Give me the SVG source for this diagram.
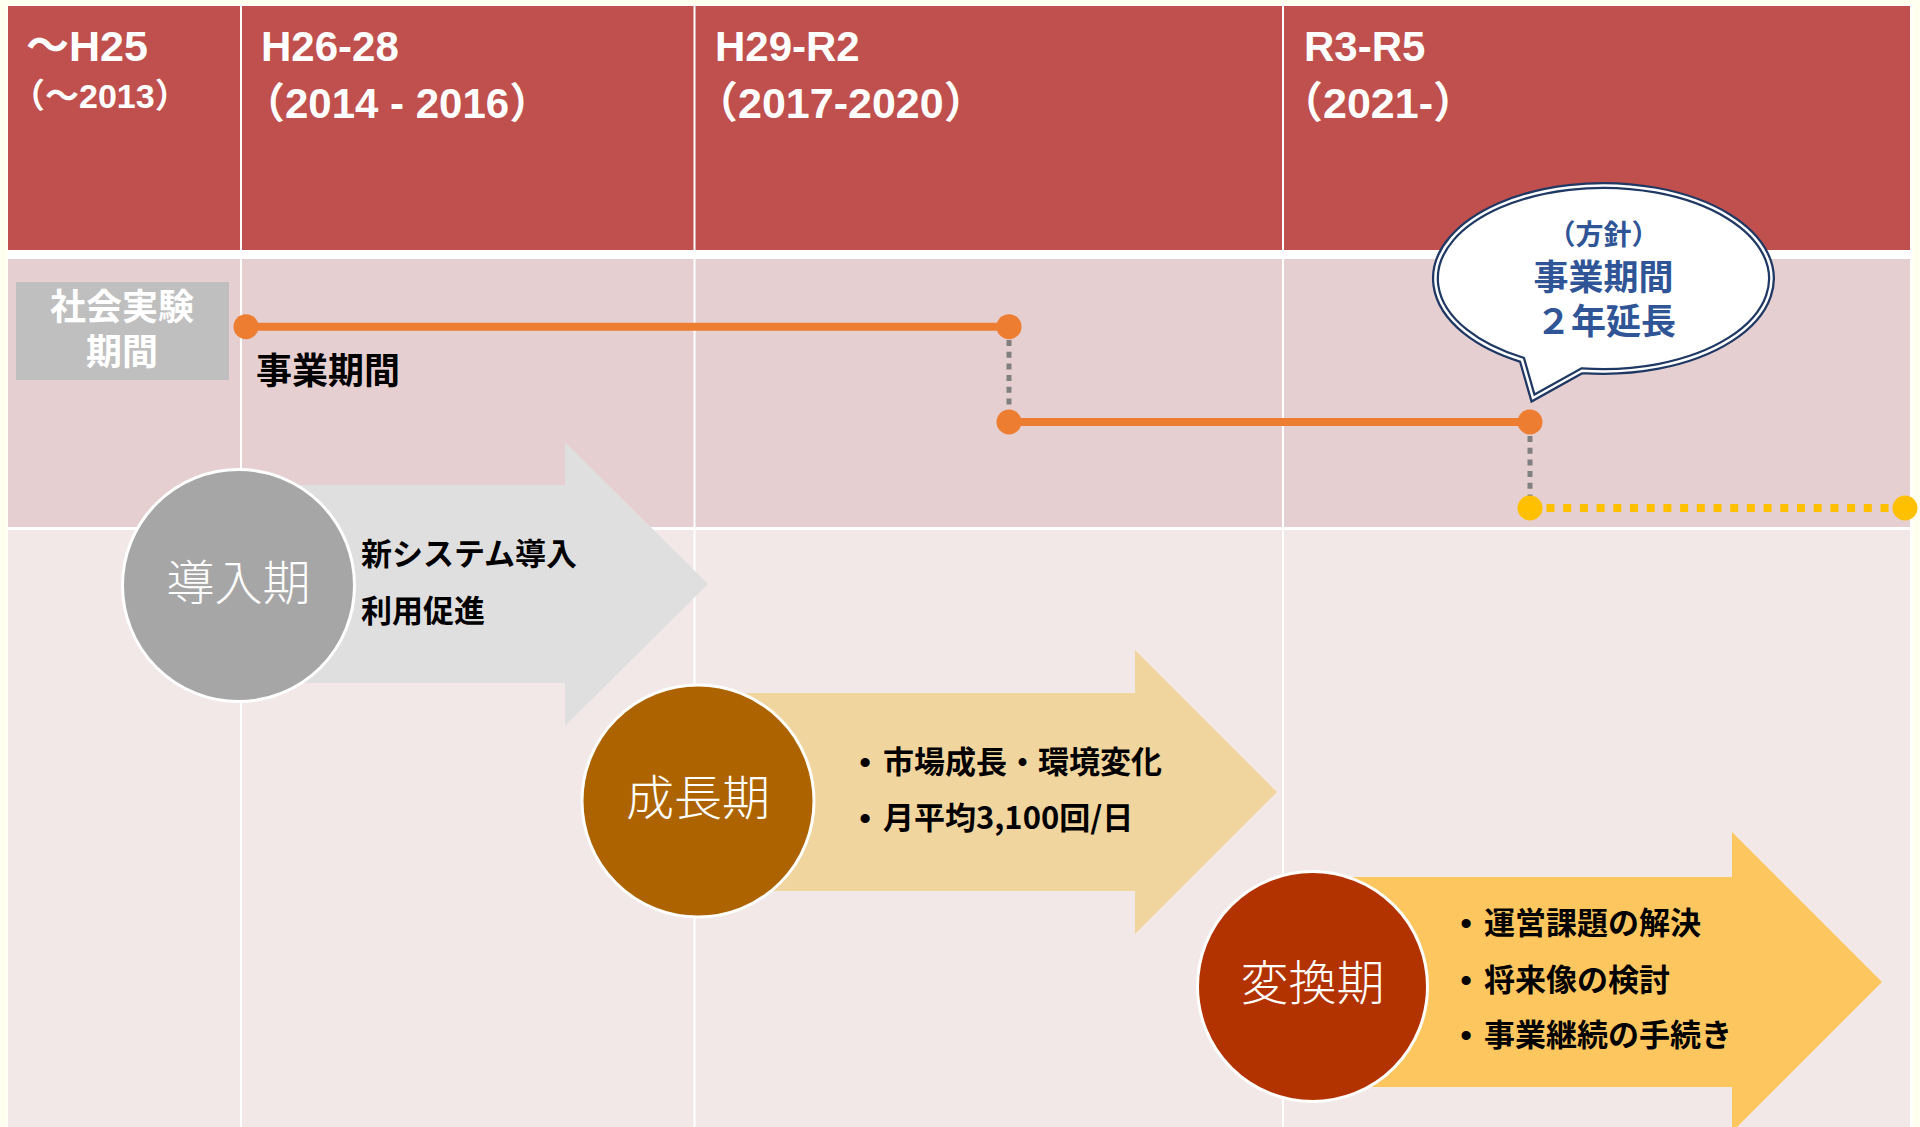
<svg xmlns="http://www.w3.org/2000/svg" width="1920" height="1127" viewBox="0 0 1920 1127">
<style>
.hdr{font-family:"Liberation Sans","Noto Sans CJK JP",sans-serif;font-weight:700;fill:#ffffff}
.jpb{font-family:"Noto Sans CJK JP",sans-serif;font-weight:700}
.lbl{font-family:"Noto Sans CJK JP",sans-serif;font-weight:700;font-size:31px;fill:#000000}
.cir{font-family:"Noto Sans CJK JP",sans-serif;font-weight:300;font-size:48px;fill:#ffffff;text-anchor:middle}
.bul{font-family:"Liberation Sans",sans-serif;font-weight:700;font-size:32px;fill:#000000;text-anchor:middle}
.bub{font-family:"Noto Sans CJK JP",sans-serif;font-weight:700;fill:#2f5597;text-anchor:middle}
.vline{stroke:#ffffff;stroke-width:2}
.phase{stroke:#ffffff;stroke-width:3}
.dot{fill:#ed7d31}
.ydot{fill:#ffc000}
</style>
<rect x="0" y="0" width="1920" height="1127" fill="#fffff0"/>
<g id="table">
<rect x="7" y="5" width="1906" height="1122" fill="#ffffff"/>
<rect x="8" y="6" width="1902" height="244" fill="#c0504d"/>
<rect x="8" y="259" width="1902" height="268" fill="#e6cfd0"/>
<rect x="8" y="530" width="1902" height="597" fill="#f2e8e8"/>
<line class="vline" x1="241" y1="5" x2="241" y2="1127"/>
<line class="vline" x1="694.5" y1="5" x2="694.5" y2="1127"/>
<line class="vline" x1="1283" y1="5" x2="1283" y2="1127"/>
</g>
<g id="header-col1">
<text class="hdr" x="26" y="61" font-size="43">～H25</text>
<text class="hdr" x="11" y="108" font-size="34">（～2013）</text>
</g>
<g id="header-col2">
<text class="hdr" x="261" y="61" font-size="42">H26-28</text>
<text class="hdr" x="243" y="118" font-size="42">（2014 - 2016）</text>
</g>
<g id="header-col3">
<text class="hdr" x="715" y="61" font-size="42">H29-R2</text>
<text class="hdr" x="695" y="118" font-size="43">（2017-2020）</text>
</g>
<g id="header-col4">
<text class="hdr" x="1304" y="61" font-size="42">R3-R5</text>
<text class="hdr" x="1280" y="118" font-size="43">（2021-）</text>
</g>
<g id="social-experiment">
<rect x="16" y="282" width="213" height="98" fill="#bfbfbf"/>
<text class="jpb" font-size="36" fill="#ffffff" text-anchor="middle"><tspan x="122" y="320">社会実験</tspan><tspan x="122" y="365">期間</tspan></text>
</g>
<g id="connectors">
<line x1="246" y1="326.7" x2="1009" y2="326.7" stroke="#ed7d31" stroke-width="8"/>
<line x1="1009" y1="422" x2="1530" y2="422" stroke="#ed7d31" stroke-width="8"/>
<line x1="1009" y1="340" x2="1009" y2="410" stroke="#808080" stroke-width="5" stroke-dasharray="6 5.7"/>
<line x1="1530" y1="436" x2="1530" y2="496" stroke="#808080" stroke-width="5" stroke-dasharray="6 5.7"/>
<line x1="1546.5" y1="508" x2="1893" y2="508" stroke="#ffc000" stroke-width="8" stroke-dasharray="8 8.7"/>
<circle class="dot" cx="246" cy="326.7" r="12.5"/>
<circle class="dot" cx="1009" cy="326.7" r="12.5"/>
<circle class="dot" cx="1009" cy="422" r="12.5"/>
<circle class="dot" cx="1530" cy="422" r="12.5"/>
<circle class="ydot" cx="1530" cy="508" r="12.5"/>
<circle class="ydot" cx="1905" cy="508" r="12.5"/>
</g>
<g id="period-label">
<text class="jpb" x="256" y="384" font-size="36" fill="#000000">事業期間</text>
</g>
<g id="phase-intro">
<polygon points="238,485 565,485 565,442 708,584 565,726 565,683 238,683" fill="#e0dfe0"/>
<circle class="phase" cx="238.5" cy="585.5" r="116" fill="#a6a6a6"/>
<text class="cir" x="238.5" y="600">導入期</text>
<text class="lbl" x="361" y="565">新システム導入</text>
<text class="lbl" x="361" y="622">利用促進</text>
</g>
<g id="phase-growth">
<polygon points="698,693 1135,693 1135,650 1277,792 1135,934 1135,891 698,891" fill="#f0d59f"/>
<circle class="phase" cx="698" cy="801" r="116" fill="#ad6400"/>
<text class="cir" x="698" y="815">成長期</text>
<text class="bul" x="865" y="773">•</text>
<text class="lbl" x="883" y="773">市場成長・環境変化</text>
<text class="bul" x="865" y="829">•</text>
<text class="lbl" x="883" y="829">月平均3,100回/日</text>
</g>
<g id="phase-transition">
<polygon points="1312,877 1732,877 1732,832 1882,982 1732,1132 1732,1087 1312,1087" fill="#fec65e"/>
<circle class="phase" cx="1312.5" cy="986.5" r="115" fill="#b33300"/>
<text class="cir" x="1312.5" y="1000">変換期</text>
<text class="bul" x="1466" y="934">•</text>
<text class="lbl" x="1484" y="934">運営課題の解決</text>
<text class="bul" x="1466" y="991">•</text>
<text class="lbl" x="1484" y="991">将来像の検討</text>
<text class="bul" x="1466" y="1046">•</text>
<text class="lbl" x="1484" y="1046">事業継続の手続き</text>
</g>
<g id="policy-bubble">
<path d="M1582 370.7 A168 93 0 1 0 1522 359.8 L1533 398 Z" fill="#ffffff" stroke="#1f3864" stroke-width="7" stroke-linejoin="miter"/>
<path d="M1582 370.7 A168 93 0 1 0 1522 359.8 L1533 398 Z" fill="none" stroke="#ffffff" stroke-width="2.5" stroke-linejoin="miter"/>
<text class="bub"><tspan x="1603.5" y="245" font-size="28">（方針）</tspan><tspan x="1603.5" y="290" font-size="35">事業期間</tspan><tspan x="1606" y="334" font-size="35">２年延長</tspan></text>
</g>
</svg>
